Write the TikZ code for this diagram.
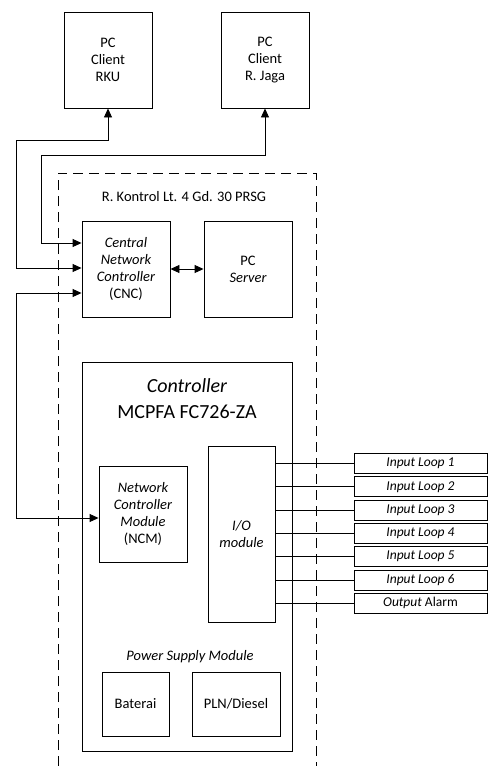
\documentclass[tikz,border=0pt]{standalone}
\usepackage{fontspec}
\setmainfont{Carlito}
\usetikzlibrary{arrows.meta}
\begin{document}
\begin{tikzpicture}[x=1pt,y=-1pt,
  box/.style={draw,line width=0.9pt,inner sep=0pt,align=center,font=\fontsize{14.5}{17}\selectfont},
  loopbox/.style={draw,line width=0.9pt,inner sep=0pt,minimum width=133pt,minimum height=20pt,font=\fontsize{13.5}{15}\selectfont},
  conn/.style={line width=0.9pt},
  dtip/.style={{Triangle[length=9pt,width=8pt]}-{Triangle[length=9pt,width=8pt]}},
  lbl/.style={inner sep=0pt,align=center,font=\fontsize{14.5}{17}\selectfont}]
\useasboundingbox (0,0) rectangle (488,766);
% dashed room
\draw[line width=0.9pt,dash pattern=on 10pt off 6pt] (58,766) -- (58,173) -- (316,173) -- (316,766);
\node[lbl] (room) at (184,197) {R. Kontrol Lt. 4 Gd. 30 PRSG};
% clients
\node[box,minimum width=88pt,minimum height=96pt] (rku) at (108,60) {PC\\Client\\RKU};
\node[box,minimum width=88pt,minimum height=96pt] (jaga) at (265,60) {PC\\Client\\R. Jaga};
% CNC and server
\node[box,minimum width=88pt,minimum height=96pt] (cnc) at (126,269) {\itshape Central\\\itshape Network\\\itshape Controller\\(CNC)};
\node[box,minimum width=88pt,minimum height=96pt] (server) at (248,269) {PC\\\itshape Server};
% controller
\node[draw,line width=0.9pt,minimum width=210pt,minimum height=389pt,inner sep=0pt] (ctrl) at (187,556.5) {};
\node[lbl,font=\fontsize{20}{26}\selectfont] (ctrltxt) at (187,399) {\itshape Controller\\MCPFA FC726-ZA};
\node[box,minimum width=88pt,minimum height=96pt] (ncm) at (143,514) {\itshape Network\\\itshape Controller\\\itshape Module\\(NCM)};
\node[box,minimum width=67pt,minimum height=176pt] (io) at (241.5,534) {\itshape I/O\\\itshape module};
\node[lbl] (psm) at (190,657) {\itshape Power Supply Module};
\node[box,minimum width=67pt,minimum height=64pt] (bat) at (135.5,704) {Baterai};
\node[box,minimum width=88pt,minimum height=64pt] (pln) at (236,704) {PLN/Diesel};
% loops
\node[loopbox] (l1) at (420.5,463.5) {\itshape Input Loop 1};
\node[loopbox] (l2) at (420.5,486.8) {\itshape Input Loop 2};
\node[loopbox] (l3) at (420.5,510.1) {\itshape Input Loop 3};
\node[loopbox] (l4) at (420.5,533.4) {\itshape Input Loop 4};
\node[loopbox] (l5) at (420.5,556.7) {\itshape Input Loop 5};
\node[loopbox] (l6) at (420.5,580.0) {\itshape Input Loop 6};
\node[loopbox] (l7) at (420.5,603.3) {{\itshape Output} Alarm};
\foreach \n in {l1,l2,l3,l4,l5,l6,l7}
  \draw[conn] (io.east |- \n.west) -- (\n.west);
% connectors
\draw[conn,dtip] (cnc.west |- 0,268) -| (16,140) -| (rku.south);
\draw[conn,dtip] (cnc.west |- 0,243) -| (41,155) -| (jaga.south);
\draw[conn,dtip] (cnc.west |- 0,293) -| (16,518) -- (ncm.west |- 0,518);
\draw[conn,dtip] (cnc.east) -- (server.west);
\end{tikzpicture}
\end{document}
